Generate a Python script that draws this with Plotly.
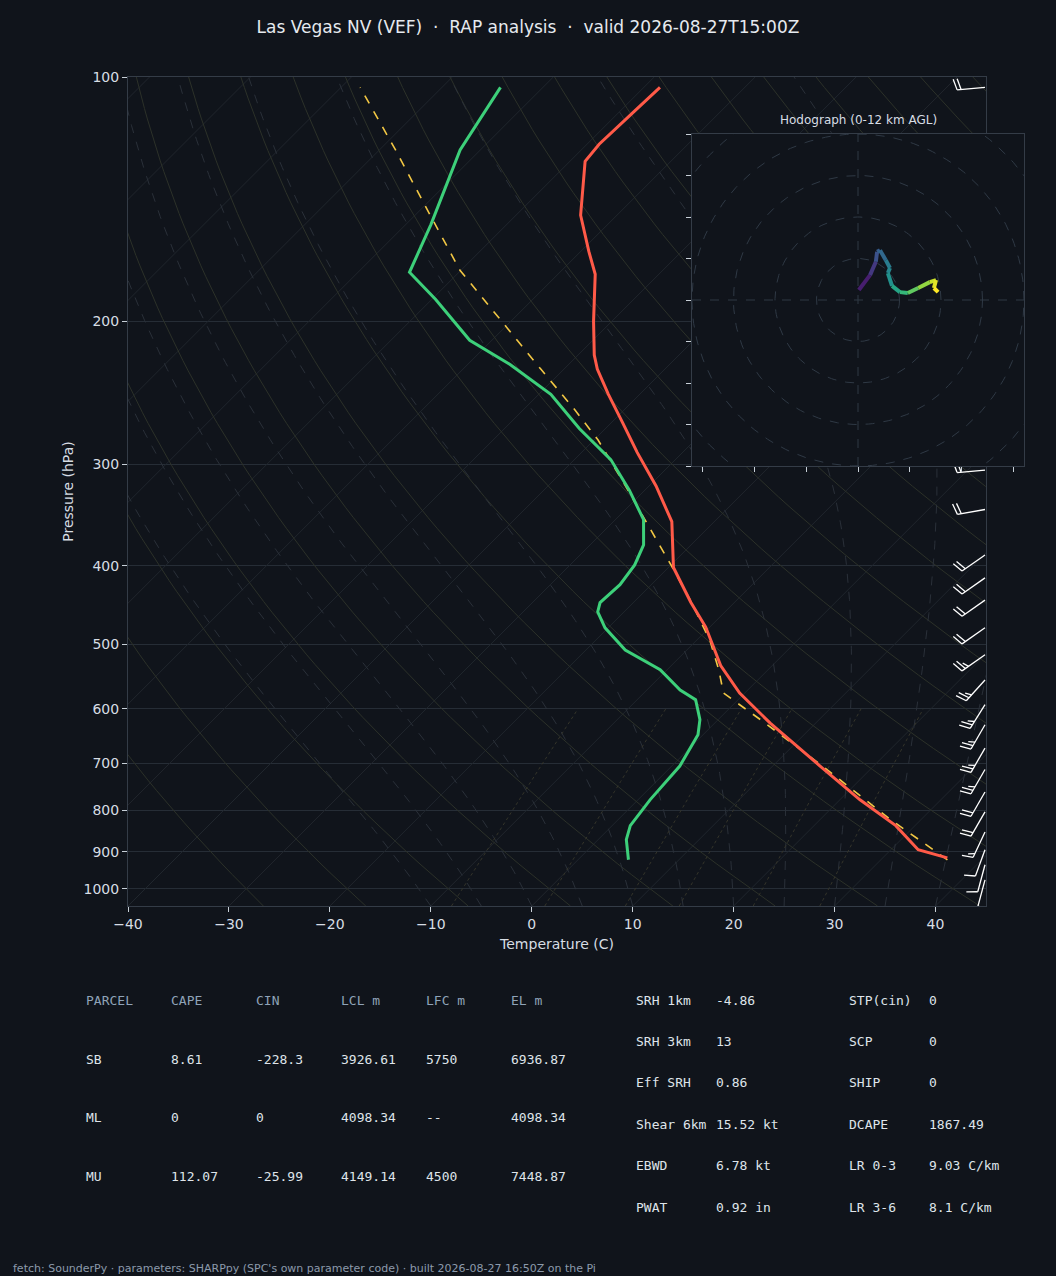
import numpy as np
import plotly.graph_objects as go
from plotly.colors import sample_colorscale

W, H = 1056, 1276
BG = "#10141b"
K = 34.93  # skew: degrees C per ln(p) unit

# ---- sounding data ----
t_p = [916, 895, 836, 777, 706, 625, 574, 531, 476, 444, 402, 353, 319, 290, 266, 246, 229, 220,
       200, 175, 164, 148, 127, 121, 111, 103]
t_c = [36.4, 32.7, 28.1, 22.0, 14.7, 5.5, -0.5, -5.1, -10.4, -14.3, -19.5, -24.2, -29.3, -34.5,
       -39.0, -43.1, -46.7, -48.4, -51.8, -56.3, -59.2, -63.6, -68.5, -68.8, -68.6, -68.4]
td_p = [921, 870, 836, 777, 706, 646, 619, 585, 569, 537, 508, 477, 456, 444, 422, 399, 377, 351,
        323, 296, 271, 246, 226, 211, 188, 174, 152, 123, 103]
td_c = [5.0, 2.8, 1.8, 1.2, 0.8, -0.5, -1.8, -4.2, -6.7, -10.7, -16.1, -20.3, -22.6, -23.3, -23.1,
        -23.6, -24.7, -27.2, -31.5, -36.4, -42.6, -48.8, -55.8, -62.2, -69.6, -74.9, -77.5, -82.0, -84.2]
pcl_p = [921, 822, 703, 619, 574, 537, 494, 441, 402, 361, 318, 280, 257, 229, 199, 173, 148, 123, 103]
pcl_c = [36.6, 27.0, 14.6, 4.2, -2.1, -4.9, -8.7, -14.6, -19.6, -25.5, -32.5, -39.6, -44.9, -52.3,
         -61.2, -70.1, -78.5, -88.4, -98.1]

# wind barbs
wb_p = [103, 305, 341, 388, 414, 441, 477, 515, 553, 593, 628, 671, 713, 760, 804, 851, 895, 934, 975]
wb_dir = [265, 265, 260, 235, 235, 235, 235, 235, 222, 212, 210, 210, 210, 210, 210, 205, 200, 195, 195]
wb_spd = [20, 20, 20, 20, 20, 20, 20, 25, 25, 25, 25, 25, 25, 20, 20, 15, 10, 10, 10]

# hodograph (kt)
hodo_u = [0.2, 2.9, 4.3, 4.6, 5.3, 6.7, 7.7, 7.2, 8.2, 10.1, 12.0, 14.5, 17.3, 18.8, 18.3, 19.3]
hodo_v = [2.4, 6.0, 9.2, 11.6, 12.0, 9.6, 7.7, 6.5, 3.4, 1.9, 1.7, 2.9, 4.3, 4.8, 2.9, 1.9]
hodo_z = [0, 1, 2, 3, 3.5, 4, 5, 5.5, 6, 7, 8, 9, 10, 11, 11.5, 12]

p_ticks = [100, 200, 300, 400, 500, 600, 700, 800, 900, 1000]


def skew(t, p):
    return np.asarray(t, float) + K * np.log(1050.0 / np.asarray(p, float))


fig = go.Figure()
plev = np.geomspace(1050, 100, 80)

# isotherms
for t in range(-160, 60, 10):
    fig.add_trace(go.Scatter(x=skew([t, t], [1050, 100]), y=[1050, 100], mode="lines",
                             line=dict(color="#20262d", width=1), hoverinfo="skip", showlegend=False))
# dry adiabats
for th in range(-30, 200, 10):
    tt = (th + 273.15) * (plev / 1000.0) ** 0.2857 - 273.15
    fig.add_trace(go.Scatter(x=skew(tt, plev), y=plev, mode="lines",
                             line=dict(color="#2c3129", width=1), hoverinfo="skip", showlegend=False))


# moist adiabats
def moist(t0):
    ps = np.geomspace(1050, 100, 120)
    out = [t0]
    T = t0 + 273.15
    for i in range(1, len(ps)):
        p = ps[i - 1]
        es = 6.112 * np.exp(17.67 * (T - 273.15) / (T - 29.65))
        rs = 0.622 * es / (p - es)
        num = 287.0 * T + 2.5e6 * rs
        den = 1005.0 + 2.5e6 ** 2 * rs * 0.622 / (287.0 * T ** 2)
        T = T + num / den / p * (ps[i] - p)
        out.append(T - 273.15)
    return ps, np.array(out)


for t0 in range(-10, 45, 5):
    ps, tt = moist(t0)
    fig.add_trace(go.Scatter(x=skew(tt, ps), y=ps, mode="lines",
                             line=dict(color="#2a3039", width=1, dash="dash"), hoverinfo="skip", showlegend=False))
# mixing ratio lines
for w in [2, 4, 7, 10, 16, 24]:
    pp = np.geomspace(1050, 600, 20)
    e = pp * w / 1000 / (0.622 + w / 1000)
    lg = np.log(e / 6.112)
    td = 243.5 * lg / (17.67 - lg)
    fig.add_trace(go.Scatter(x=skew(td, pp), y=pp, mode="lines",
                             line=dict(color="#34342a", width=1, dash="dot"), hoverinfo="skip", showlegend=False))

# profiles
fig.add_trace(go.Scatter(x=skew(pcl_c, pcl_p), y=pcl_p, mode="lines",
                         line=dict(color="#f2c744", width=1.6, dash="dash"), showlegend=False))
fig.add_trace(go.Scatter(x=skew(td_c, td_p), y=td_p, mode="lines",
                         line=dict(color="#3dd07a", width=3), showlegend=False))
fig.add_trace(go.Scatter(x=skew(t_c, t_p), y=t_p, mode="lines",
                         line=dict(color="#ff5a48", width=3), showlegend=False))

# wind barbs (x3 in pixels, y on pressure axis)
PXL = 352.6
bx, by = [], []
for p, d, s in zip(wb_p, wb_dir, wb_spd):
    r = np.radians(d)
    dx, dy = np.sin(r), np.cos(r)  # toward source, screen y up
    px0 = 985.0

    def pt(a, b):
        return px0 + a, p * np.exp(-b / PXL)
    L = 28
    tip = (dx * L, dy * L)
    for q in [(0, 0), tip]:
        x_, y_ = pt(*q); bx.append(x_); by.append(y_)
    bx.append(None); by.append(None)
    perp = (dy, -dx)
    n_full, half = int(s // 10), (s % 10) >= 5
    for i in range(n_full + (1 if half else 0)):
        ln = 11 if i < n_full else 6
        off = L - 4 * i
        base = (dx * off, dy * off)
        end = (base[0] + perp[0] * ln + dx * 3, base[1] + perp[1] * ln + dy * 3)
        for q in [base, end]:
            x_, y_ = pt(*q); bx.append(x_); by.append(y_)
        bx.append(None); by.append(None)
fig.add_trace(go.Scatter(x=bx, y=by, xaxis="x3", yaxis="y", mode="lines",
                         line=dict(color="white", width=1.3), hoverinfo="skip", showlegend=False))

# hodograph
R = 40
fig.add_trace(go.Scatter(x=[-R, R, R, -R, -R], y=[-R, -R, R, R, -R], xaxis="x2", yaxis="y2",
                         fill="toself", fillcolor=BG, mode="lines", line=dict(width=0),
                         hoverinfo="skip", showlegend=False))
ang = np.linspace(0, 2 * np.pi, 200)
for rr in [10, 20, 30, 40, 50]:
    fig.add_trace(go.Scatter(x=rr * np.cos(ang), y=rr * np.sin(ang), xaxis="x2", yaxis="y2", mode="lines",
                             line=dict(color="#2f3945", width=1, dash="dash"), hoverinfo="skip", showlegend=False))
for xs, ys in [([-R, R], [0, 0]), ([0, 0], [-R, R])]:
    fig.add_trace(go.Scatter(x=xs, y=ys, xaxis="x2", yaxis="y2", mode="lines",
                             line=dict(color="#2f3945", width=1, dash="dash"), hoverinfo="skip", showlegend=False))
cols = sample_colorscale("Viridis", [z / 12 for z in hodo_z])
for i in range(len(hodo_u) - 1):
    fig.add_trace(go.Scatter(x=hodo_u[i:i + 2], y=hodo_v[i:i + 2], xaxis="x2", yaxis="y2", mode="lines",
                             line=dict(color=cols[i + 1], width=4), hoverinfo="skip", showlegend=False))

dom_x = [128 / W, 986 / W]
dom_y = [1 - 906 / H, 1 - 77 / H]
ax_col = "#343c47"
fig.update_layout(
    width=W, height=H, paper_bgcolor=BG, plot_bgcolor=BG,
    margin=dict(l=0, r=0, t=0, b=0, autoexpand=False),
    font=dict(family="DejaVu Sans", color="#d7dde4", size=13),
    title=dict(text="Las Vegas NV (VEF)  ·  RAP analysis  ·  valid 2026-08-27T15:00Z",
               x=0.5, y=1 - 27 / H, xanchor="center", yanchor="middle", font=dict(size=17, color="#e6eaef")),
    xaxis=dict(domain=dom_x, range=[-40, 45], tickvals=list(range(-40, 50, 10)), showgrid=False, zeroline=False,
               ticks="outside", ticklen=5, tickcolor="#c8d0d8", showline=True, linecolor=ax_col, mirror=True,
               automargin=False,
               title=dict(text="Temperature (C)", font=dict(size=14), standoff=8), tickfont=dict(size=14)),
    yaxis=dict(domain=dom_y, type="log", range=[np.log10(1050), 2], tickvals=p_ticks,
               ticktext=[str(v) for v in p_ticks], showgrid=True, gridcolor="#262d36", zeroline=False,
               ticks="outside", ticklen=5, tickcolor="#c8d0d8", showline=True, linecolor=ax_col, mirror=True,
               automargin=False,
               title=dict(text="Pressure (hPa)", font=dict(size=14), standoff=6), tickfont=dict(size=14)),
    xaxis3=dict(overlaying="x", range=[128, 986], visible=False, automargin=False),
    xaxis2=dict(domain=[692 / W, 1024 / W], range=[-R, R], anchor="y2", showgrid=False, zeroline=False,
                tickvals=[-37.5, -25, -12.5, 0, 12.5, 25, 37.5], showticklabels=False, ticks="outside",
                ticklen=5, tickcolor="#c8d0d8", showline=True, linecolor=ax_col, mirror=True, automargin=False),
    yaxis2=dict(domain=[1 - 466 / H, 1 - 134 / H], range=[-R, R], anchor="x2", showgrid=False, zeroline=False,
                dtick=10, showticklabels=False, ticks="outside", ticklen=5, tickcolor="#c8d0d8",
                showline=True, linecolor=ax_col, mirror=True, automargin=False),
)

ann = []
ann.append(dict(text="Hodograph (0-12 km AGL)", x=858 / W, y=1 - 120 / H, xref="paper", yref="paper",
                showarrow=False, font=dict(size=12, color="#d7dde4")))

MONO = "DejaVu Sans Mono"
hdr = ["PARCEL", "CAPE", "CIN", "LCL m", "LFC m", "EL m"]
rows = [["SB", "8.61", "-228.3", "3926.61", "5750", "6936.87"],
        ["ML", "0", "0", "4098.34", "--", "4098.34"],
        ["MU", "112.07", "-25.99", "4149.14", "4500", "7448.87"]]
cx = [84, 169, 254, 339, 424, 509]
for j, h in enumerate(hdr):
    ann.append(dict(text=h, x=cx[j] / W, y=1 - 1000 / H, font=dict(family=MONO, size=13, color="#8fa3b8")))
for i, r in enumerate(rows):
    for j, v in enumerate(r):
        ann.append(dict(text=v, x=cx[j] / W, y=1 - (1059 + 58.5 * i) / H,
                        font=dict(family=MONO, size=13, color="#dfe4ea")))
left = [("SRH 1km", "-4.86"), ("SRH 3km", "13"), ("Eff SRH", "0.86"),
        ("Shear 6km", "15.52 kt"), ("EBWD", "6.78 kt"), ("PWAT", "0.92 in")]
right = [("STP(cin)", "0"), ("SCP", "0"), ("SHIP", "0"), ("DCAPE", "1867.49"),
         ("LR 0-3", "9.03 C/km"), ("LR 3-6", "8.1 C/km")]
for i, ((a, b), (c, d)) in enumerate(zip(left, right)):
    yy = 1 - (1000 + 41.4 * i) / H
    for txt, xx in [(a, 634), (b, 714), (c, 847), (d, 927)]:
        ann.append(dict(text=txt, x=xx / W, y=yy, font=dict(family=MONO, size=13, color="#dfe4ea")))
ann.append(dict(text="fetch: SounderPy · parameters: SHARPpy (SPC's own parameter code) · built 2026-08-27 16:50Z on the Pi",
                x=11 / W, y=1 - 1268 / H, font=dict(size=11, color="#8c9aab")))
for a in ann:
    a.setdefault("xref", "paper"); a.setdefault("yref", "paper"); a.setdefault("showarrow", False)
    a.setdefault("xanchor", "left"); a.setdefault("yanchor", "middle")
ann[0]["xanchor"] = "center"
fig.update_layout(annotations=ann)

fig.write_html("out.html", config={"displayModeBar": False},
               post_script="document.body.style.margin='0';document.body.style.overflow='hidden';")
